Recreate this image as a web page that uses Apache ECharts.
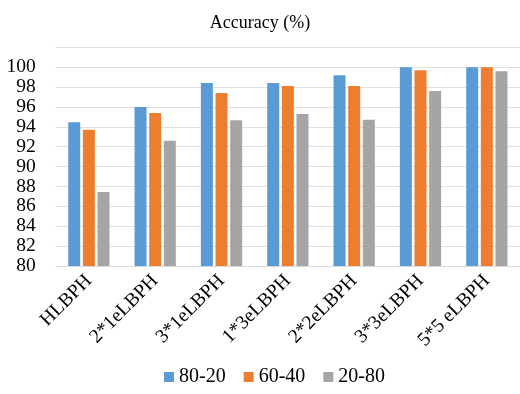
<!DOCTYPE html>
<html>
<head>
<meta charset="utf-8">
<script src="https://cdn.jsdelivr.net/npm/echarts@6/dist/echarts.min.js"></script>
<style>html,body{margin:0;padding:0;background:#fff}#c{width:520px;height:394px}</style>
</head>
<body>
<div id="c"></div>
<script>
const categories = ['HLBPH', '2*1eLBPH', '3*1eLBPH', '1*3eLBPH', '2*2eLBPH', '3*3eLBPH', '5*5 eLBPH'];
const s8020 = [94.45, 96.0, 98.4, 98.4, 99.2, 100, 100];
const s6040 = [93.7, 95.4, 97.4, 98.1, 98.1, 99.7, 100];
const s2080 = [87.45, 92.6, 94.67, 95.3, 94.7, 97.6, 99.6];
const seriesNames = ['80-20', '60-40', '20-80'];
const colors = ['#5b9bd5', '#ed7d31', '#a5a5a5'];
const font = 'Liberation Serif, Times New Roman, serif';

const chart = echarts.init(document.getElementById('c'), null, {renderer: 'canvas'});
const mk = (name, data, color) => ({
  name, type: 'bar', data, barWidth: 12, barGap: '22%',
  itemStyle: {color}
});
chart.setOption({
  animation: false,
  title: {
    text: 'Accuracy (%)', left: 'center', top: 9,
    textStyle: {fontFamily: font, fontSize: 18, fontWeight: 'normal', color: '#000'}
  },
  legend: {
    bottom: 2, left: 159, itemWidth: 10, itemHeight: 10, itemGap: 18,
    icon: 'rect',
    textStyle: {fontFamily: font, fontSize: 20, color: '#000'},
    data: seriesNames
  },
  grid: {left: 55.7, top: 47.3, width: 469, height: 218.7, containLabel: false},
  xAxis: {
    type: 'category', data: categories,
    axisLine: {lineStyle: {color: '#d9d9d9'}},
    axisTick: {show: false},
    axisLabel: {rotate: 45, fontFamily: font, fontSize: 19.5, color: '#000', margin: 12, interval: 0}
  },
  yAxis: {
    type: 'value', min: 80, max: 102, interval: 2,
    axisLine: {show: false}, axisTick: {show: false},
    splitLine: {lineStyle: {color: '#e0e0e0'}},
    axisLabel: {
      fontFamily: font, fontSize: 19.5, color: '#000', margin: 20,
      formatter: v => v > 100 ? '' : String(v)
    }
  },
  series: [
    mk(seriesNames[0], s8020, colors[0]),
    mk(seriesNames[1], s6040, colors[1]),
    mk(seriesNames[2], s2080, colors[2])
  ]
});
</script>
</body>
</html>
